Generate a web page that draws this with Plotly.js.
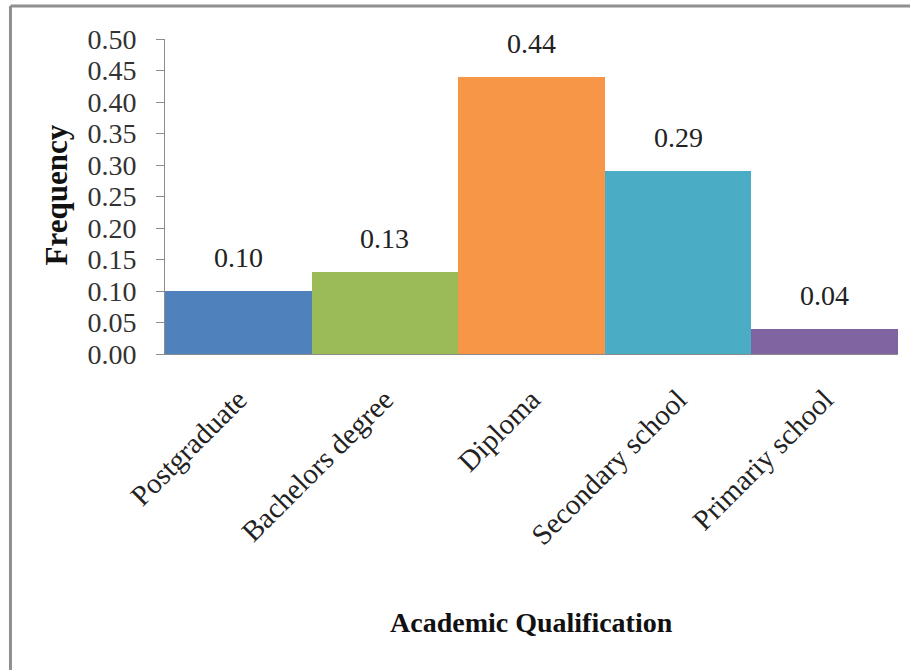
<!DOCTYPE html>
<html>
<head>
<meta charset="utf-8">
<script src="https://cdn.plot.ly/plotly-3.0.1.min.js"></script>
<style>html,body{margin:0;padding:0;background:#fff;}#chart{width:910px;height:670px;}</style>
</head>
<body>
<div id="chart"></div>
<script>
const categories = ["Postgraduate", "Bachelors degree", "Diploma", "Secondary school", "Primariy school"];
const frequency = [0.10, 0.13, 0.44, 0.29, 0.04];
const barColors = ["#4F81BD", "#9BBB59", "#F79646", "#4BACC6", "#8064A2"];
const yTickVals = [0, 0.05, 0.10, 0.15, 0.20, 0.25, 0.30, 0.35, 0.40, 0.45, 0.50];
const xTitle = "Academic Qualification";
const yTitle = "Frequency";

const serif = "Liberation Serif, Times New Roman, serif";

const trace = {
  type: "bar",
  x: categories,
  y: frequency,
  marker: {color: barColors, line: {width: 0}},
  hoverinfo: "x+y"
};

const labelAnns = categories.map((c, i) => ({
  x: c, y: frequency[i], xref: "x", yref: "y",
  text: frequency[i].toFixed(2), showarrow: false,
  yanchor: "bottom", yshift: 16,
  font: {family: serif, size: 28, color: "#222"}
}));

const layout = {
  width: 910, height: 670,
  margin: {l: 165, r: 12, t: 39, b: 316},
  paper_bgcolor: "#ffffff", plot_bgcolor: "#ffffff",
  bargap: 0,
  showlegend: false,
  font: {family: serif, color: "#222"},
  xaxis: {
    type: "category",
    showline: true, linecolor: "#8c8c8c", linewidth: 1,
    ticks: "", tickangle: -45,
    tickfont: {family: serif, size: 29, color: "#222"},
    ticklabelstandoff: 16,
    showgrid: false, zeroline: false, fixedrange: true
  },
  yaxis: {
    range: [0, 0.5],
    tickvals: yTickVals,
    ticktext: yTickVals.map(v => v.toFixed(2)),
    showline: true, linecolor: "#8c8c8c", linewidth: 1,
    ticks: "outside", ticklen: 8, tickcolor: "#8c8c8c",
    tickfont: {family: serif, size: 28, color: "#333"},
    ticklabelstandoff: 14,
    showgrid: false, zeroline: false, fixedrange: true
  },
  annotations: labelAnns.concat([
    {xref: "paper", yref: "paper", x: 0.5, y: -0.853, text: "<b>" + xTitle + "</b>",
     showarrow: false, xanchor: "center", yanchor: "middle",
     font: {family: serif, size: 28, color: "#111"}},
    {xref: "paper", yref: "paper", x: -0.148, y: 0.505, text: "<b>" + yTitle + "</b>",
     showarrow: false, textangle: -90, xanchor: "center", yanchor: "middle",
     font: {family: serif, size: 31, color: "#111"}}
  ]),
  shapes: [
    {type: "line", xref: "paper", yref: "paper", x0: -0.2108, x1: -0.2108, y0: -1.2, y1: 1.1048,
     line: {color: "#8f8f8f", width: 3}},
    {type: "line", xref: "paper", yref: "paper", x0: -0.2108, x1: 1.2, y0: 1.1048, y1: 1.1048,
     line: {color: "#8f8f8f", width: 3}}
  ]
};

Plotly.newPlot("chart", [trace], layout, {displayModeBar: false, staticPlot: true});
</script>
</body>
</html>
